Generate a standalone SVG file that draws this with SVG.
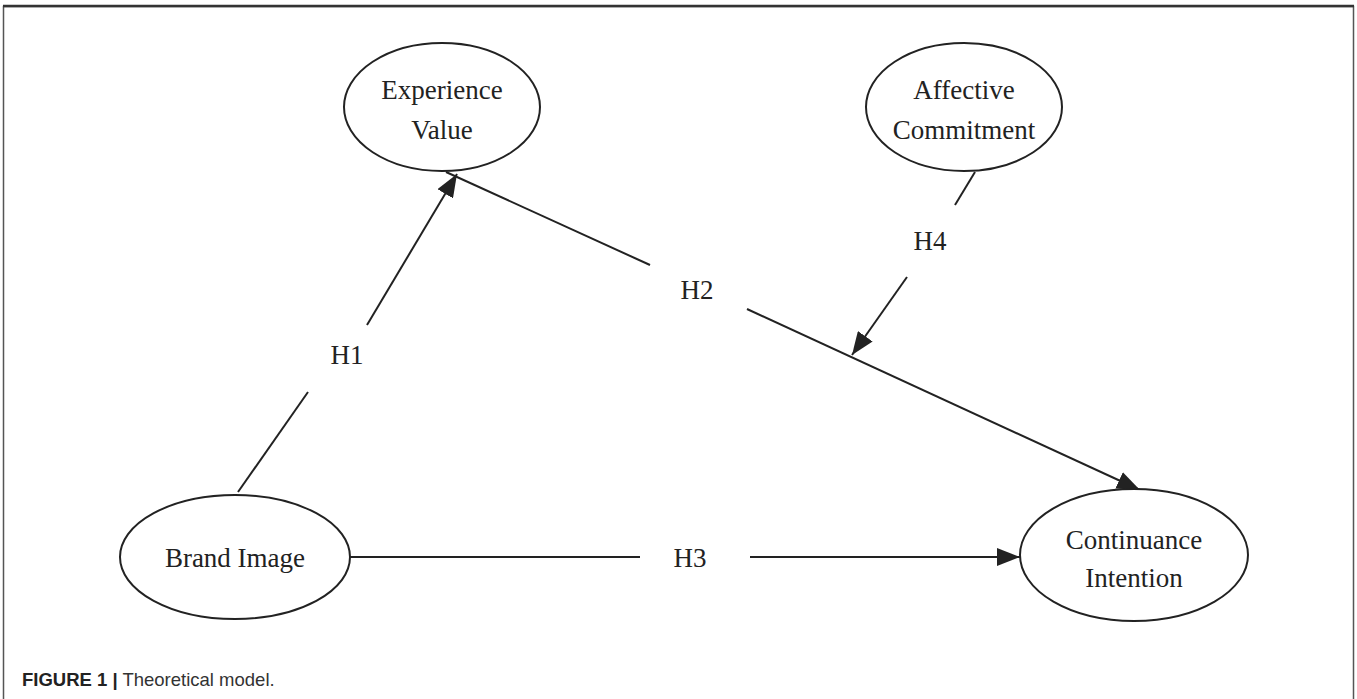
<svg xmlns="http://www.w3.org/2000/svg" width="1357" height="699" viewBox="0 0 1357 699">
<style>
.node ellipse{fill:#fff;stroke:#222;stroke-width:2}
.lbl{font-family:"Liberation Serif","Times New Roman",serif;font-size:27px;fill:#222;text-anchor:middle}
.edge{stroke:#222;stroke-width:2;fill:none}
.cap{font-family:"Liberation Sans",Arial,sans-serif;font-size:18.5px;fill:#333}
</style>
<defs>
<marker id="arr" markerWidth="26" markerHeight="18" refX="23" refY="9" orient="auto" markerUnits="userSpaceOnUse">
<path d="M0,0 L23,9 L0,18 Z" fill="#222"/>
</marker>
</defs>
<rect width="1357" height="699" fill="#fff"/>
<g id="frame" fill="none" stroke="#555">
<path d="M3.5,699 V6.5 H1353.5 V699" stroke-width="1.5"/>
<line x1="3" y1="6" x2="1354" y2="6" stroke-width="2.5" stroke="#333"/>
</g>
<g id="connectors">
<line class="edge" x1="238" y1="492" x2="308" y2="392"/>
<line class="edge" x1="367" y1="325" x2="457" y2="174" marker-end="url(#arr)"/>
<text class="lbl" x="347" y="364">H1</text>
<line class="edge" x1="446" y1="172" x2="650" y2="265"/>
<line class="edge" x1="747" y1="309" x2="1140" y2="490" marker-end="url(#arr)"/>
<text class="lbl" x="697" y="299">H2</text>
<line class="edge" x1="350" y1="557" x2="640" y2="557"/>
<line class="edge" x1="750" y1="557" x2="1020" y2="557" marker-end="url(#arr)"/>
<text class="lbl" x="690" y="567">H3</text>
<line class="edge" x1="975" y1="172" x2="955" y2="205"/>
<line class="edge" x1="907" y1="277" x2="852" y2="355" marker-end="url(#arr)"/>
<text class="lbl" x="930" y="250">H4</text>
</g>
<g id="experience-value" class="node">
<ellipse cx="442" cy="107" rx="98" ry="64"/>
<text class="lbl" x="442" y="99">Experience</text>
<text class="lbl" x="442" y="139">Value</text>
</g>
<g id="affective-commitment" class="node">
<ellipse cx="964" cy="107" rx="98" ry="64"/>
<text class="lbl" x="964" y="99">Affective</text>
<text class="lbl" x="964" y="139">Commitment</text>
</g>
<g id="brand-image" class="node">
<ellipse cx="235" cy="557" rx="115" ry="62"/>
<text class="lbl" x="235" y="567">Brand Image</text>
</g>
<g id="continuance-intention" class="node">
<ellipse cx="1134" cy="555" rx="114" ry="66"/>
<text class="lbl" x="1134" y="549">Continuance</text>
<text class="lbl" x="1134" y="587">Intention</text>
</g>
<g id="caption">
<text class="cap" x="22" y="686"><tspan font-weight="bold" fill="#222">FIGURE 1 |</tspan> Theoretical model.</text>
</g>
</svg>
